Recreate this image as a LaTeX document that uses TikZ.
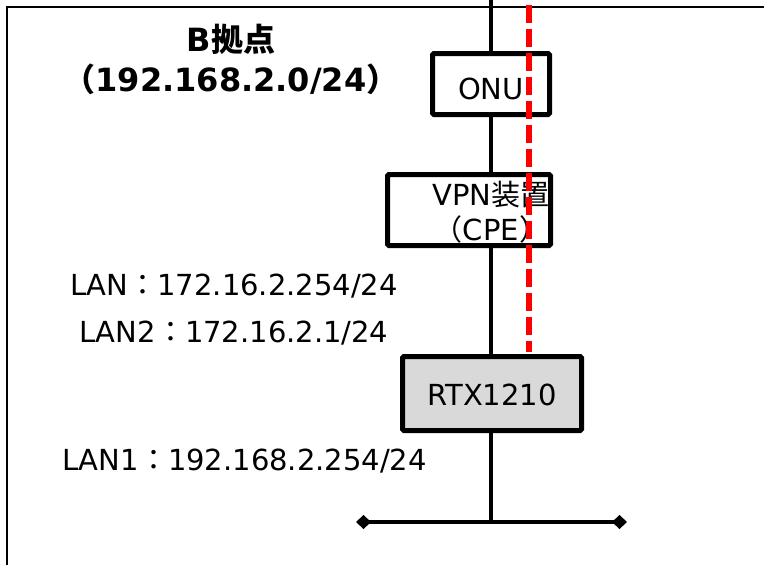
\documentclass[tikz,border=0pt]{standalone}
\usepackage{fontspec}
\setmainfont{DejaVu Sans}
\newfontfamily\jp{Noto Sans CJK JP}
\usetikzlibrary{arrows.meta}
\tikzset{
  devbox/.style={draw=black, line width=5pt, fill=white, rounded corners=1.5pt, inner sep=0pt},
  lbl/.style={inner sep=0pt, font=\fontsize{29pt}{34pt}\selectfont},
  ttl/.style={inner sep=0pt, font=\fontsize{32pt}{38pt}\selectfont\bfseries},
  wire/.style={draw=black, line width=3.5pt},
}
\begin{document}
\begin{tikzpicture}[x=1pt,y=-1pt]
\useasboundingbox (0,0) rectangle (764,565);
% frame
\coordinate (fbl) at (7,566);
\coordinate (ftl) at (7,7);
\coordinate (ftr) at (765,7);
\draw[line width=2pt] (fbl) -- (ftl) -- (ftr);
% boxes
\node[devbox, minimum width=117pt, minimum height=61pt] (onu) at (491,84) {};
\node[devbox, minimum width=163pt, minimum height=71pt] (vpn) at (469,210) {};
\node[devbox, fill={rgb,255:red,217;green,217;blue,217}, minimum width=179pt, minimum height=74pt] (rtx) at (492,393.5) {};
% texts
\node[lbl, anchor=base] (onut) at (491,99) {ONU};
\node[lbl, anchor=base] (vpnt) at (491,205) {VPN{\jp 装置}};
\node[lbl, anchor=base] (cpet) at (491,240) {{\jp （}CPE{\jp ）}};
\node[lbl, anchor=base] (rtxt) at (492,405) {RTX1210};
\node[ttl, anchor=base] (t1) at (231,51) {B{\jp 拠点}};
\node[ttl, anchor=base] (t2) at (231,91) {{\jp （}192.168.2.0/24{\jp ）}};
\node[lbl, anchor=base west] (lan) at (70,295) {LAN{\jp ：}172.16.2.254/24};
\node[lbl, anchor=base west] (lan2) at (79,342) {LAN2{\jp ：}172.16.2.1/24};
\node[lbl, anchor=base west] (lan1) at (62,470) {LAN1{\jp ：}192.168.2.254/24};
% wires
\coordinate (top) at (491,-1);
\coordinate (busC) at (491,522);
\coordinate (busL) at (356,522);
\coordinate (busR) at (627,522);
\draw[wire] (top) -- (onu.north -| top);
\draw[wire] (onu.south -| top) -- (vpn.north -| top);
\draw[wire] (vpn.south -| top) -- (rtx.north -| top);
\draw[wire] (rtx.south -| top) -- (busC);
\draw[line width=4pt, {Diamond[length=15pt,width=14pt]}-{Diamond[length=15pt,width=14pt]}] (busL) -- (busR);
% red dashed
\coordinate (rtop) at (529,0);
\coordinate (rbot) at (529,352);
\draw[red, line width=5.5pt, dash pattern=on 18pt off 6pt, dash phase=19pt] (rtop) -- (rbot);
\end{tikzpicture}
\end{document}
